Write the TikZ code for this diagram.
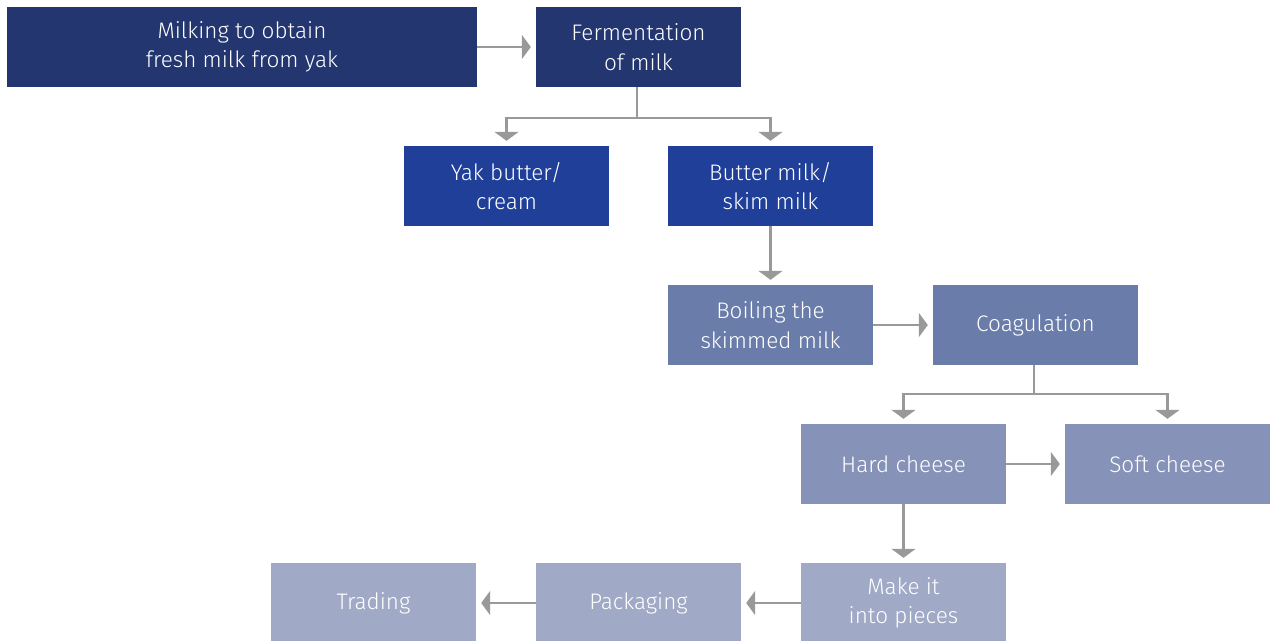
\documentclass[tikz,border=0pt]{standalone}
\usepackage{fontspec}
\setmainfont{Fira Sans Light}
\usetikzlibrary{arrows.meta}
\definecolor{cA}{HTML}{243670}
\definecolor{cB}{HTML}{1F3F99}
\definecolor{cC}{HTML}{6A7DAA}
\definecolor{cD}{HTML}{8692B8}
\definecolor{cE}{HTML}{A0A9C6}
\definecolor{cArr}{HTML}{999999}
\tikzset{
  box/.style={minimum width=205pt, minimum height=80pt, inner sep=0pt, text=white,
    align=center, font=\fontsize{22.5}{29.5}\selectfont},
  arr/.style={draw=cArr, line width=2.8pt, -{Triangle[width=24pt,length=9pt]}, shorten >=5pt},
  ln/.style={draw=cArr, line width=2.8pt}
}
\begin{document}
\begin{tikzpicture}[x=1pt,y=-1pt]
\useasboundingbox (0,0) rectangle (1271,640);
\node[box, fill=cA, minimum width=470pt] (milk) at (242,47) {Milking to obtain\\fresh milk from yak};
\node[box, fill=cA] (ferm) at (638.5,47) {Fermentation\\of milk};
\node[box, fill=cB] (yak) at (506.5,186) {Yak butter/\\cream};
\node[box, fill=cB] (bm) at (770.5,186) {Butter milk/\\skim milk};
\node[box, fill=cC] (boil) at (770.5,325) {Boiling the\\skimmed milk};
\node[box, fill=cC] (coag) at (1035.5,325) {Coagulation};
\node[box, fill=cD] (hard) at (903.5,464) {Hard cheese};
\node[box, fill=cD] (soft) at (1167.5,464) {Soft cheese};
\node[box, fill=cE] (make) at (903.5,603) {Make it\\into pieces};
\node[box, fill=cE] (pack) at (638.5,603) {Packaging};
\node[box, fill=cE] (trad) at (373.5,603) {Trading};
\coordinate (j1) at (637,118);
\coordinate (j2) at (1034,394);
\draw[arr] (milk.east) -- (ferm.west);
\draw[ln] (ferm.south -| j1) -- (j1);
\draw[arr] (j1) -| (yak.north);
\draw[arr] (j1) -| (bm.north);
\draw[arr] (bm.south) -- (boil.north);
\draw[arr] (boil.east) -- (coag.west);
\draw[ln] (coag.south -| j2) -- (j2);
\draw[arr] (j2) -| (hard.north);
\draw[arr] (j2) -| (soft.north);
\draw[arr] (hard.east) -- (soft.west);
\draw[arr] (hard.south) -- (make.north);
\draw[arr] (make.west) -- (pack.east);
\draw[arr] (pack.west) -- (trad.east);
\end{tikzpicture}
\end{document}
